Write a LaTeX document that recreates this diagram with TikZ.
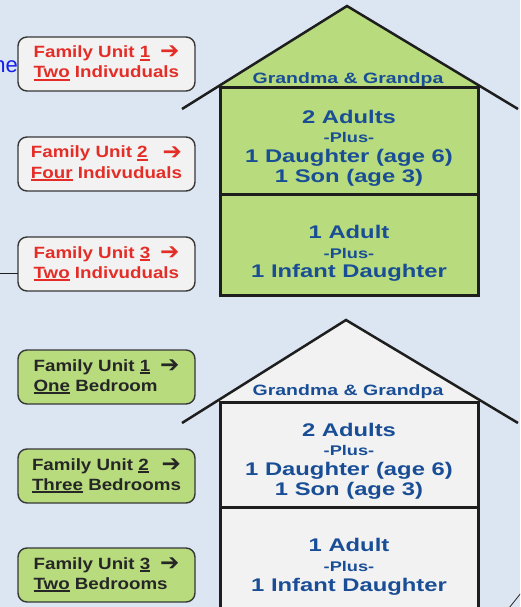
\documentclass[tikz,border=0pt]{standalone}
\usepackage{fontspec}
\setmainfont{Liberation Sans}
\newfontfamily\housefont[FakeStretch=1.3]{Liberation Sans}
\newfontfamily\boxfont[FakeStretch=1.15]{Liberation Sans}
\newfontfamily\arrowfont{DejaVu Sans}
\usetikzlibrary{positioning}

\definecolor{pagebg}{RGB}{220,230,242}
\definecolor{housegreen}{RGB}{183,219,125}
\definecolor{housegray}{RGB}{242,242,242}
\definecolor{houseline}{RGB}{30,30,30}
\definecolor{houseblue}{RGB}{25,78,150}
\definecolor{unitred}{RGB}{228,45,38}
\definecolor{boxline}{RGB}{55,55,55}
\definecolor{cutblue}{RGB}{20,30,235}

% underline with a thicker rule
\newsavebox{\ulbox}
\newcommand{\unitline}[1]{\sbox{\ulbox}{#1}\rlap{\rule[-2.6pt]{\wd\ulbox}{1.2pt}}\usebox{\ulbox}}
\newcommand{\unitarrow}{\hspace{0.6em plus 1fill}{\arrowfont\bfseries\fontsize{23}{20}\selectfont\raisebox{-1pt}{➔}}}

\tikzset{
    unitbox/.style={draw=boxline, line width=1.4pt, rounded corners=9pt, minimum width=177pt, minimum height=54pt, inner sep=0pt, outer sep=0pt, font=\boxfont\bfseries\fontsize{16.3}{20}\selectfont},
    room/.style={draw=houseline, line width=3pt, minimum width=258pt, inner sep=0pt, outer sep=0pt},
    roof/.style={draw=houseline, line width=2.5pt},
    roomtext/.style={text=houseblue, align=center, inner sep=0pt, font=\housefont\bfseries\fontsize{18.3}{19.7}\selectfont},
    attictext/.style={roomtext, font=\housefont\bfseries\fontsize{15}{15}\selectfont},
}
\newcommand{\plusline}{{\fontsize{14}{19.7}\selectfont -Plus-}}

\begin{document}
\begin{tikzpicture}[x=1pt, y=-1pt]
        \clip (0,0) rectangle (520,607);
        \fill[pagebg] (0,0) rectangle (520,607);

        %%% Cut-off pieces at the edges
            \node[anchor=south east, inner sep=0pt, text=cutblue, font=\fontsize{22}{22}\selectfont] (cutText) at (18,73) {ne};
            \coordinate (cutLineEnd) at (0,273);
            \coordinate (cutCornerA) at (509,608);
            \coordinate (cutCornerB) at (521,593);
            \draw[houseline, line width=0.8pt] (cutCornerA) -- (cutCornerB);

        %%% First house (who lives where)
            % Roof points
            \coordinate (1apex) at (347,6);
            \coordinate (1eaveLeft) at (182,109);
            \coordinate (1eaveRight) at (518,109);

            % Green attic, only above the rooms
            \begin{scope}
                \clip (0,0) rectangle (520,88);
                \fill[housegreen] (1apex) -- (1eaveLeft) -- (1eaveRight) -- cycle;
            \end{scope}

            % Rooms
            \node[room, fill=housegreen, minimum height=106pt, anchor=north west] (1roomUpper) at (220,88) {};
            \node[room, fill=housegreen, minimum height=101pt, below=0 of 1roomUpper] (1roomLower) {};

            % Roof lines
            \draw[roof] (1eaveLeft) -- (1apex) -- (1eaveRight);

            % Texts
            \node[attictext] (1attic) at (348,80) {Grandma \& Grandpa};
            \node[roomtext, yshift=-7pt] (1upperText) at (1roomUpper.center) {2 Adults\\ \plusline\\ 1 Daughter (age 6)\\ 1 Son (age 3)};
            \node[roomtext, yshift=-9pt] (1lowerText) at (1roomLower.center) {1 Adult\\ \plusline\\ 1 Infant Daughter};

            % Family unit boxes
            \node[unitbox, fill=housegray, text=unitred] (1unit1) at (106.5,64) {\begin{tabular}{@{}l@{}}Family Unit \unitline{1}\unitarrow\\ \unitline{Two} Indivuduals\end{tabular}};
            \node[unitbox, fill=housegray, text=unitred, below=46pt of 1unit1] (1unit2) {\begin{tabular}{@{}l@{}}Family Unit \unitline{2}\unitarrow\\ \unitline{Four} Indivuduals\end{tabular}};
            \node[unitbox, fill=housegray, text=unitred, below=46pt of 1unit2] (1unit3) {\begin{tabular}{@{}l@{}}Family Unit \unitline{3}\unitarrow\\ \unitline{Two} Indivuduals\end{tabular}};

            \draw[houseline, line width=0.8pt] (cutLineEnd) -- (cutLineEnd -| 1unit3.west);

        %%% Second house (how many bedrooms)
            % Roof points
            \coordinate (2apex) at (346,320);
            \coordinate (2eaveLeft) at (182,423);
            \coordinate (2eaveRight) at (518,423);

            % Gray attic, only above the rooms
            \begin{scope}
                \clip (0,300) rectangle (520,402);
                \fill[housegray] (2apex) -- (2eaveLeft) -- (2eaveRight) -- cycle;
            \end{scope}

            % Rooms
            \node[room, fill=housegray, minimum height=105pt, anchor=north west] (2roomUpper) at (220,402) {};
            \node[room, fill=housegray, minimum height=105pt, below=0 of 2roomUpper] (2roomLower) {};

            % Roof lines
            \draw[roof] (2eaveLeft) -- (2apex) -- (2eaveRight);

            % Texts
            \node[attictext] (2attic) at (348,392) {Grandma \& Grandpa};
            \node[roomtext, yshift=-6.5pt] (2upperText) at (2roomUpper.center) {2 Adults\\ \plusline\\ 1 Daughter (age 6)\\ 1 Son (age 3)};
            \node[roomtext] (2lowerText) at (349,567) {1 Adult\\ \plusline\\ 1 Infant Daughter};

            % Family unit boxes
            \node[unitbox, fill=housegreen, text=black!85] (2unit1) at (106.5,377) {\begin{tabular}{@{}l@{}}Family Unit \unitline{1}\unitarrow\\ \unitline{One} Bedroom\end{tabular}};
            \node[unitbox, fill=housegreen, text=black!85, below=45pt of 2unit1] (2unit2) {\begin{tabular}{@{}l@{}}Family Unit \unitline{2}\unitarrow\\ \unitline{Three} Bedrooms\end{tabular}};
            \node[unitbox, fill=housegreen, text=black!85, below=45pt of 2unit2] (2unit3) {\begin{tabular}{@{}l@{}}Family Unit \unitline{3}\unitarrow\\ \unitline{Two} Bedrooms\end{tabular}};
\end{tikzpicture}
\end{document}
